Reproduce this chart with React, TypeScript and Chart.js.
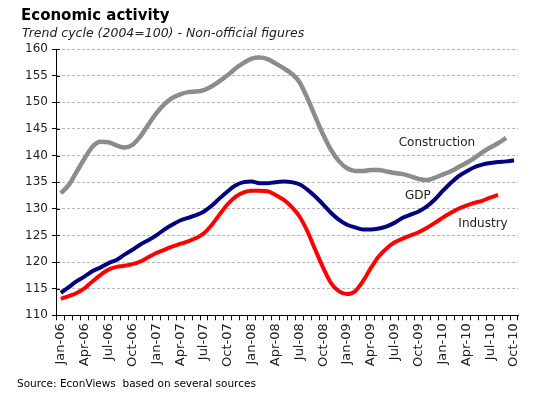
import React, { useEffect, useRef } from "react";
import { Chart, registerables } from "chart.js";

Chart.register(...registerables);

const months = [
  "Jan-06","Feb-06","Mar-06","Apr-06","May-06","Jun-06","Jul-06","Aug-06","Sep-06","Oct-06","Nov-06","Dec-06",
  "Jan-07","Feb-07","Mar-07","Apr-07","May-07","Jun-07","Jul-07","Aug-07","Sep-07","Oct-07","Nov-07","Dec-07",
  "Jan-08","Feb-08","Mar-08","Apr-08","May-08","Jun-08","Jul-08","Aug-08","Sep-08","Oct-08","Nov-08","Dec-08",
  "Jan-09","Feb-09","Mar-09","Apr-09","May-09","Jun-09","Jul-09","Aug-09","Sep-09","Oct-09","Nov-09","Dec-09",
  "Jan-10","Feb-10","Mar-10","Apr-10","May-10","Jun-10","Jul-10","Aug-10","Sep-10","Oct-10",
];

const construction = [
  132.9,134.5,137,139.5,141.7,142.6,142.5,141.9,141.5,142,143.6,145.8,
  147.9,149.6,150.8,151.5,151.9,152,152.3,153,154,155.1,156.4,157.4,
  158.2,158.4,158.1,157.3,156.4,155.4,153.8,150.8,147.3,143.9,141,138.9,
  137.6,137.1,137.1,137.3,137.3,137,136.7,136.5,136.1,135.6,135.4,135.8,
  136.4,137,137.8,138.6,139.5,140.6,141.5,142.3,143.3,
];

const gdp = [
  114.2,115.3,116.4,117.3,118.3,119,119.8,120.4,121.4,122.3,123.3,124.1,
  125,126.1,127,127.8,128.3,128.8,129.5,130.6,132,133.3,134.4,135,
  135.1,134.8,134.8,135,135.1,135,134.6,133.6,132.3,130.8,129.2,127.9,
  127,126.5,126.1,126.1,126.3,126.7,127.4,128.3,128.9,129.5,130.4,131.7,
  133.3,134.8,136.1,137,137.8,138.3,138.6,138.8,138.9,139.1,
];

const industry = [
  113.1,113.6,114.2,115.1,116.4,117.6,118.6,119.1,119.3,119.6,120.1,120.9,
  121.7,122.3,122.9,123.4,123.9,124.5,125.4,127,129,130.9,132.3,133.1,
  133.4,133.4,133.3,132.6,131.7,130.4,128.6,125.8,122.3,118.9,116,114.5,
  114,114.5,116.4,118.9,121.1,122.6,123.7,124.4,125,125.6,126.4,127.3,
  128.3,129.2,130,130.6,131.1,131.5,132.1,132.6,
];

const seriesNames = ["Construction", "GDP", "Industry"];
// label anchors in data space: [category index, value]
const labelAnchors: [number, number][] = [
  [47.3, 142.3],
  [44.9, 132.4],
  [53.1, 127.1],
];

const yMin = 110;
const yMax = 160;
const yStep = 5;

const title = "Economic activity";
const subtitle = "Trend cycle (2004=100) - Non-official figures";
const source = "Source: EconViews  based on several sources";

const FONT = "DejaVu Sans";

export default function App() {
  const ref = useRef<HTMLCanvasElement | null>(null);

  useEffect(() => {
    if (!ref.current) return;

    const textPlugin = {
      id: "texts",
      afterDraw(chart: any) {
        const ctx = chart.ctx;
        ctx.save();
        ctx.fillStyle = "#000";
        ctx.textAlign = "left";
        ctx.textBaseline = "alphabetic";
        ctx.font = `bold 15px ${FONT}`;
        ctx.fillText(title, 21, 20);
        ctx.font = `italic 12.5px ${FONT}`;
        ctx.fillStyle = "#222";
        ctx.fillText(subtitle, 22, 37);
        ctx.font = `10.5px ${FONT}`;
        ctx.fillStyle = "#000";
        ctx.fillText(source, 17, 387);

        const xs = chart.scales.x;
        const ys = chart.scales.y;

        // inner half of the y-axis tick marks (they cross the axis)
        ctx.strokeStyle = "#000";
        ctx.lineWidth = 1;
        ctx.beginPath();
        ys.ticks.forEach((t: any) => {
          const y = Math.round(ys.getPixelForValue(t.value)) + 0.5;
          ctx.moveTo(xs.left, y);
          ctx.lineTo(xs.left + 3, y);
        });
        ctx.stroke();

        ctx.font = `12px ${FONT}`;
        ctx.fillStyle = "#222";
        ctx.textAlign = "center";
        ctx.textBaseline = "middle";
        seriesNames.forEach((n, i) => {
          const [ci, v] = labelAnchors[i];
          const x0 = xs.getPixelForValue(Math.floor(ci));
          const x1 = xs.getPixelForValue(Math.floor(ci) + 1);
          const x = x0 + (x1 - x0) * (ci - Math.floor(ci));
          ctx.fillText(n, x, ys.getPixelForValue(v));
        });
        ctx.restore();
      },
    };

    const chart = new Chart(ref.current, {
      type: "line",
      data: {
        labels: months,
        datasets: [
          { label: seriesNames[0], data: construction, borderColor: "#8c8c8c", borderWidth: 4.5 },
          { label: seriesNames[1], data: gdp, borderColor: "#000080", borderWidth: 4 },
          { label: seriesNames[2], data: industry, borderColor: "#ff0000", borderWidth: 4 },
        ].map((d) => ({ ...d, pointRadius: 0, fill: false, tension: 0.4, cubicInterpolationMode: "monotone" as const })),
      },
      options: {
        responsive: false,
        animation: false,
        devicePixelRatio: 1,
        layout: { padding: { top: 49, left: 21, right: 15, bottom: 28 } },
        plugins: { legend: { display: false }, tooltip: { enabled: false }, title: { display: false } },
        scales: {
          x: {
            type: "category",
            offset: true,
            grid: { offset: true, drawOnChartArea: false, drawTicks: true, tickLength: 5, color: "#000", tickColor: "#000" },
            border: { color: "#000", width: 1 },
            ticks: {
              autoSkip: false,
              maxRotation: 90,
              minRotation: 90,
              padding: 3,
              color: "#222",
              font: { family: FONT, size: 13 },
              callback: (_v: any, i: number) => (i % 3 === 0 ? months[i] : ""),
            },
          },
          y: {
            min: yMin,
            max: yMax,
            ticks: { stepSize: yStep, color: "#222", padding: 4, font: { family: FONT, size: 12 } },
            grid: { color: "#b8b8b8", tickColor: "#000", tickLength: 5, drawTicks: true },
            border: { color: "#000", width: 1, dash: [3, 2] },
          },
        },
      },
      plugins: [textPlugin],
    });

    return () => chart.destroy();
  }, []);

  return (
    <div style={{ position: "fixed", left: 0, top: 0, width: 533, height: 398, background: "#fff" }}>
      <canvas ref={ref} width={533} height={398} style={{ display: "block" }} />
    </div>
  );
}
